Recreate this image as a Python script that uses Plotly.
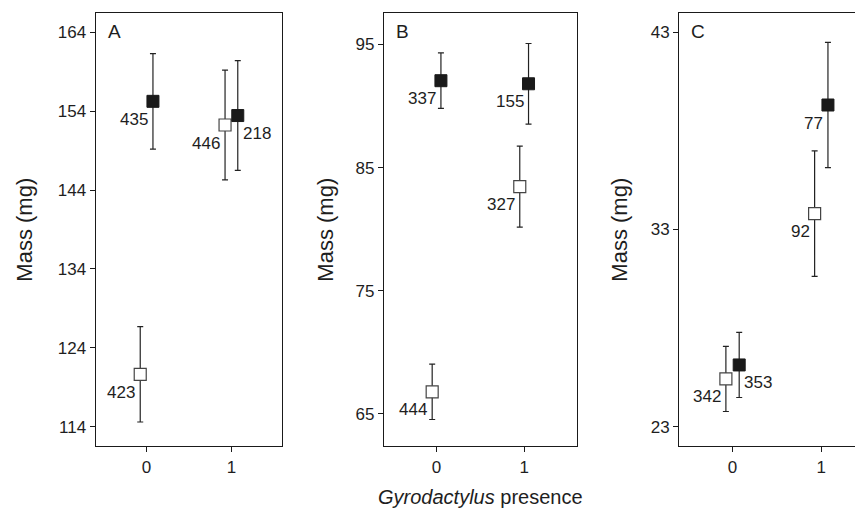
import plotly.graph_objects as go

# ---------------- data ----------------
presence = [0, 1]
panels = ["A", "B", "C"]

# open squares
open_mean_A = [120.65, 152.25]
open_err_A = [6.05, 6.95]
open_n_A = ["423", "446"]
# filled squares
fill_mean_A = [155.25, 153.45]
fill_err_A = [6.05, 6.95]
fill_n_A = ["435", "218"]

open_mean_B = [66.8, 83.45]
open_err_B = [2.25, 3.29]
open_n_B = ["444", "327"]
fill_mean_B = [92.05, 91.8]
fill_err_B = [2.25, 3.27]
fill_n_B = ["337", "155"]

open_mean_C = [25.42, 33.8]
open_err_C = [1.65, 3.18]
open_n_C = ["342", "92"]
fill_mean_C = [26.13, 39.31]
fill_err_C = [1.65, 3.18]
fill_n_C = ["353", "77"]

ticks_A = [114, 124, 134, 144, 154, 164]
ticks_B = [65, 75, 85, 95]
ticks_C = [23, 33, 43]

# label side: -1 = left of bar, +1 = right of bar
open_side = {"A": [-1, -1], "B": [-1, -1], "C": [-1, -1]}
fill_side = {"A": [-1, 1], "B": [-1, -1], "C": [1, -1]}

data = {
    "A": (open_mean_A, open_err_A, open_n_A, fill_mean_A, fill_err_A, fill_n_A, ticks_A),
    "B": (open_mean_B, open_err_B, open_n_B, fill_mean_B, fill_err_B, fill_n_B, ticks_B),
    "C": (open_mean_C, open_err_C, open_n_C, fill_mean_C, fill_err_C, fill_n_C, ticks_C),
}

# ---------------- layout geometry ----------------
# page has an 8px body margin, so the figure is 8px smaller on each axis
PAD = 8
W, H = 863 - PAD, 508 - PAD
FONT = "Liberation Sans, Arial, Helvetica, sans-serif"
TXT = "#1e1e1e"


def px(x):
    return (x - PAD) / W


def py(y):
    return 1 - (y - PAD) / H


xdom = {"A": (95.7, 282.3), "B": (384.0, 576.7), "C": (679.3, 863.0)}
xrng = {"A": [-0.6, 1.6], "B": [-0.6, 1.6], "C": [-0.6, 1.47]}
yrng = {"A": [111.56, 166.41], "B": [62.40, 97.52], "C": [22.02, 43.96]}
offset = {"A": 0.075, "B": 0.05, "C": 0.075}
ydom = (py(446.0), py(13.3))
ytitle_x = {"A": 25, "B": 326, "C": 620}

fig = go.Figure()
annotations = []

for i, p in enumerate(panels):
    om, oe, on, fm, fe, fn, tk = data[p]
    ax = "" if i == 0 else str(i + 1)
    xref, yref = "x" + ax, "y" + ax
    off = offset[p]
    ox = [x - off for x in presence]
    fx = [x + off for x in presence]
    err_style = dict(type="data", symmetric=True, color="#222", thickness=1.2, width=3)
    fig.add_trace(go.Scatter(
        x=ox, y=om, mode="markers", xaxis=xref, yaxis=yref, showlegend=False,
        error_y=dict(array=oe, **err_style),
        marker=dict(symbol="square", size=12, color="white", line=dict(color="#444", width=1.2)),
    ))
    fig.add_trace(go.Scatter(
        x=fx, y=fm, mode="markers", xaxis=xref, yaxis=yref, showlegend=False,
        error_y=dict(array=fe, **err_style),
        marker=dict(symbol="square", size=12, color="#1a1a1a", line=dict(color="#1a1a1a", width=1)),
    ))
    for xs, ys, ns, sides in ((ox, om, on, open_side[p]), (fx, fm, fn, fill_side[p])):
        for xv, yv, nv, sd in zip(xs, ys, ns, sides):
            annotations.append(dict(
                x=xv, y=yv, xref=xref, yref=yref, text=nv, showarrow=False,
                xanchor="right" if sd < 0 else "left", yanchor="middle",
                xshift=-3 if sd < 0 else 3, yshift=-18,
                font=dict(family=FONT, size=17, color=TXT),
            ))
    # panel letter
    annotations.append(dict(
        x=0, y=1, xref=xref + " domain", yref=yref + " domain", text=p, showarrow=False,
        xanchor="left", yanchor="middle", xshift=10, yshift=-18,
        font=dict(family=FONT, size=19, color=TXT),
    ))
    # y title
    x0, x1 = xdom[p]
    annotations.append(dict(
        x=px(ytitle_x[p]), y=(ydom[0] + ydom[1]) / 2,
        xref="paper", yref="paper", text="Mass (mg)", textangle=-90, showarrow=False,
        xanchor="center", yanchor="middle",
        font=dict(family=FONT, size=22, color=TXT),
    ))
    axis_common = dict(showgrid=False, zeroline=False, showline=True, linecolor="#1a1a1a",
                       linewidth=1.3, ticks="outside", ticklen=5, tickwidth=1.2,
                       tickcolor="#1a1a1a",
                       tickfont=dict(family=FONT, size=17, color=TXT))
    fig.update_layout(**{
        "xaxis" + ax: dict(domain=[px(x0), min(px(x1), 1.0)], range=xrng[p], tickvals=presence,
                           ticktext=[str(v) for v in presence], mirror=True,
                           anchor=yref, **axis_common),
        "yaxis" + ax: dict(domain=list(ydom), range=yrng[p], tickvals=tk,
                           mirror=(p != "C"), anchor=xref, **axis_common),
    })

annotations.append(dict(
    x=px(480.5), y=py(497.0), xref="paper", yref="paper",
    text="<i>Gyrodactylus</i> presence", showarrow=False,
    xanchor="center", yanchor="middle",
    font=dict(family=FONT, size=20, color=TXT),
))

fig.update_layout(
    width=W, height=H, margin=dict(l=0, r=0, t=0, b=0),
    paper_bgcolor="white", plot_bgcolor="white",
    annotations=annotations,
)

fig.write_html("out.html")
